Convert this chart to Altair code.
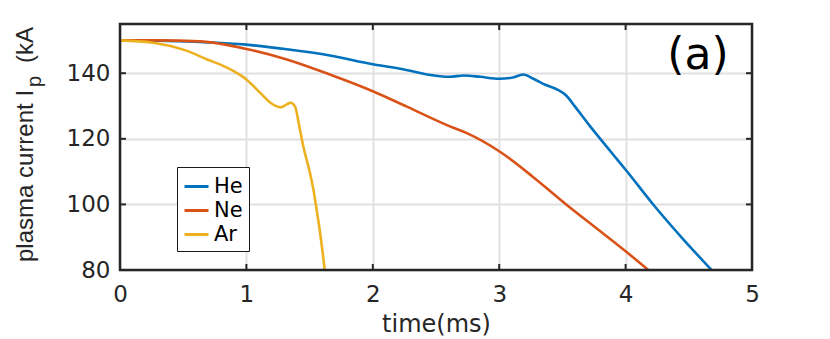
import altair as alt
import pandas as pd

# ---- data ----
he_t = [0, 0.3, 0.63, 1.0, 1.32, 1.66, 2.0, 2.24, 2.43, 2.61, 2.72, 2.85, 3.0, 3.1, 3.19, 3.27, 3.37, 3.46, 3.53, 3.6, 3.72, 3.88, 4.01, 4.22, 4.46, 4.68]
he_ip = [150, 149.9, 149.5, 148.7, 147.3, 145.4, 142.7, 141.2, 139.6, 138.9, 139.3, 138.9, 138.3, 138.6, 139.6, 138.3, 136.4, 135.0, 133.2, 129.8, 123.8, 116.2, 110.1, 99.9, 89.2, 80]

ne_t = [0, 0.3, 0.63, 1.0, 1.32, 1.66, 2.0, 2.27, 2.61, 2.74, 3.0, 3.27, 3.53, 3.8, 4.01, 4.18]
ne_ip = [150, 150, 149.7, 147.4, 144.2, 139.6, 134.5, 129.8, 123.8, 121.8, 116.2, 108.3, 100.0, 91.8, 85.4, 80]

ar_t = [0, 0.26, 0.53, 0.69, 0.79, 0.9, 1.0, 1.11, 1.19, 1.27, 1.32, 1.35, 1.385, 1.42, 1.45, 1.503, 1.53, 1.556, 1.58, 1.62]
ar_ip = [150, 149.3, 146.8, 144.2, 142.7, 140.6, 138.1, 134.0, 131.0, 129.6, 130.5, 131.0, 129.8, 123.5, 117.7, 109.6, 104.5, 98.3, 92.2, 80]

gases = ["He", "Ne", "Ar"]
colors = ["#0072BD", "#D95319", "#EDB120"]
x_ticks = [0, 1, 2, 3, 4, 5]
y_ticks = [80, 100, 120, 140]
ytitle_parts = ["plasma current I", "p", "(kA"]
panel_label = "(a)"

W, H = 632, 246
XDOM = [0, 5]
YDOM = [80, 155]

rows = []
for g, ts, vs in [("He", he_t, he_ip), ("Ne", ne_t, ne_ip), ("Ar", ar_t, ar_ip)]:
    for t, v in zip(ts, vs):
        rows.append({"gas": g, "t": t, "ip": v})
df = pd.DataFrame(rows)

xs = alt.Scale(domain=XDOM, nice=False, zero=False)
ys = alt.Scale(domain=YDOM, nice=False, zero=False)

lines = alt.Chart(df).mark_line(strokeWidth=2.6, interpolate="monotone").encode(
    x=alt.X("t:Q", scale=xs, axis=alt.Axis(
        values=x_ticks, title="time(ms)", grid=True, gridColor="#e0e0e0", gridWidth=2,
        tickSize=0, domain=False, labelFont="DejaVu Sans", labelFontSize=23,
        labelColor="#262626", labelPadding=13, labelFlush=False, format="d",
        titleFont="DejaVu Sans", titleFontSize=24, titleFontWeight="normal",
        titleColor="#262626", titlePadding=6)),
    y=alt.Y("ip:Q", scale=ys, axis=alt.Axis(
        values=y_ticks, title=None, grid=True, gridColor="#e0e0e0", gridWidth=2,
        tickSize=0, domain=False, labelFont="DejaVu Sans", labelFontSize=23,
        labelColor="#262626", labelPadding=10, format="d")),
    color=alt.Color("gas:N", sort=gases,
                    scale=alt.Scale(domain=gases, range=colors),
                    legend=alt.Legend(
                        title=None, orient="none", legendX=57, legendY=143,
                        symbolType="stroke", symbolStrokeWidth=3, symbolSize=576,
                        labelFont="DejaVu Sans", labelFontSize=21, labelColor="#000000",
                        labelOffset=4, padding=6, rowPadding=0,
                        strokeColor="#1a1a1a", fillColor="#ffffff")),
    detail="gas:N",
)

xt = pd.DataFrame({"t": x_ticks})
yt = pd.DataFrame({"v": y_ticks})
tick_color = "#262626"
bottom_ticks = alt.Chart(xt).mark_rule(color=tick_color, strokeWidth=2).encode(
    x=alt.X("t:Q", scale=xs), y=alt.value(H), y2=alt.value(H - 6))
top_ticks = alt.Chart(xt).mark_rule(color=tick_color, strokeWidth=2).encode(
    x=alt.X("t:Q", scale=xs), y=alt.value(0), y2=alt.value(6))
left_ticks = alt.Chart(yt).mark_rule(color=tick_color, strokeWidth=2).encode(
    y=alt.Y("v:Q", scale=ys), x=alt.value(0), x2=alt.value(6))
right_ticks = alt.Chart(yt).mark_rule(color=tick_color, strokeWidth=2).encode(
    y=alt.Y("v:Q", scale=ys), x=alt.value(W), x2=alt.value(W - 6))

frame = alt.Chart(pd.DataFrame({"f": [0]})).mark_rect(
    fillOpacity=0, stroke="#262626", strokeWidth=2.5
).encode(x=alt.value(0), x2=alt.value(W), y=alt.value(0), y2=alt.value(H))

def txt(s, x, y, size, font, angle=0, align="left", baseline="alphabetic", color="#262626"):
    return alt.Chart(pd.DataFrame({"s": [s]})).mark_text(
        font=font, fontSize=size, angle=angle, align=align, baseline=baseline, color=color
    ).encode(text="s:N", x=alt.value(x), y=alt.value(y))

yt1 = txt(ytitle_parts[0], -87, 238, 24, "Liberation Sans", angle=270)
yt2 = txt(ytitle_parts[1], -79, 63, 20, "Liberation Sans", angle=270)
yt3 = txt(ytitle_parts[2], -87, 39, 24, "Liberation Sans", angle=270)
lab = txt(panel_label, 578, 45, 44, "DejaVu Sans", align="center", color="#000000")

chart = alt.layer(
    lines, bottom_ticks, top_ticks, left_ticks, right_ticks, frame, yt1, yt2, yt3, lab
).properties(
    width=W, height=H,
    autosize=alt.AutoSizeParams(type="none"),
    padding={"left": 112, "top": 16, "right": 60, "bottom": 68},
).configure_view(stroke=None).configure_legend(strokeWidth=2).configure(background="white")

chart.save("out.html", embed_options={"renderer": "svg", "actions": False})
